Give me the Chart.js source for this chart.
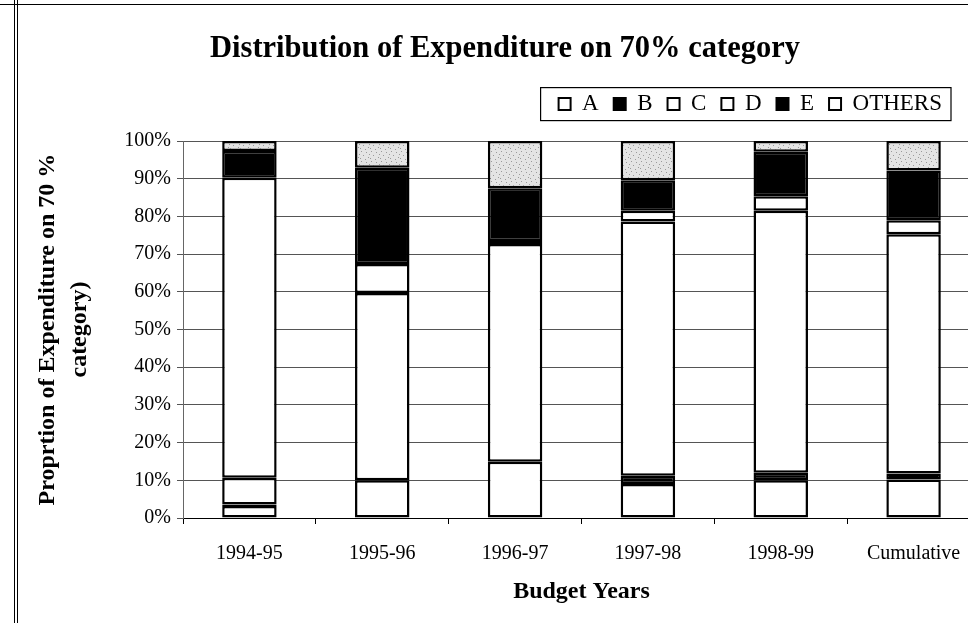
<!DOCTYPE html>
<html>
<head>
<meta charset="utf-8">
<script src="https://cdn.jsdelivr.net/npm/chart.js@4/dist/chart.umd.min.js"></script>
<style>
  html, body { margin: 0; padding: 0; background: #fff; overflow: hidden; width: 968px; height: 623px; }
  #wrap { position: absolute; left: 0; top: 0; width: 1000px; height: 623px; }
  #frameL { position: absolute; left: 14px; top: 0; width: 2px; height: 623px; border-left: 1px solid #000; border-right: 1px solid #000; }
  #frameT { position: absolute; left: 0; top: 4px; width: 968px; height: 0; border-top: 1px solid #000; }
</style>
</head>
<body>
<div id="wrap"><canvas id="c" width="1000" height="623"></canvas></div>
<div id="frameL"></div>
<div id="frameT"></div>
<script>
const categories = ['1994-95', '1995-96', '1996-97', '1997-98', '1998-99', 'Cumulative'];
const seriesA = [3.2, 10.0, 14.9, 9.0, 10.0, 10.2];
const seriesB = [0.4, 0, 0, 2.2, 2.0, 1.6];
const seriesC = [7.1, 49.7, 57.8, 67.5, 69.5, 63.5];
const seriesD = [79.6, 7.7, 0.8, 2.8, 3.9, 3.7];
const seriesE = [7.1, 25.5, 14.0, 8.1, 11.8, 13.2];
const seriesOthers = [2.6, 7.1, 12.5, 10.4, 2.8, 7.8];
const yTicks = [0, 10, 20, 30, 40, 50, 60, 70, 80, 90, 100];

const serif = "'Liberation Serif', 'Times New Roman', serif";

function speckle() {
  const p = document.createElement('canvas');
  p.width = 10; p.height = 10;
  const g = p.getContext('2d');
  g.fillStyle = '#e4e4e4';
  g.fillRect(0, 0, 10, 10);
  g.fillStyle = '#9a9a9a';
  const dots = [[1,1],[6,2],[3,5],[8,7],[0,8],[5,9],[9,4]];
  dots.forEach(d => g.fillRect(d[0], d[1], 1, 1));
  return g.createPattern(p, 'repeat');
}

const names = ['A', 'B', 'C', 'D', 'E', 'OTHERS'];
const values = [seriesA, seriesB, seriesC, seriesD, seriesE, seriesOthers];
const fills = ['#ffffff', '#000000', '#ffffff', '#ffffff', '#000000', speckle()];
const legendFills = ['#ffffff', '#000000', '#ffffff', '#ffffff', '#000000', '#ffffff'];

const datasets = names.map((n, i) => ({
  label: n,
  data: values[i],
  backgroundColor: fills[i],
  borderColor: '#000',
  borderWidth: 2.5,
  borderSkipped: false,
  barPercentage: 0.41,
  categoryPercentage: 1.0
}));

const legendFrame = {
  id: 'legendFrame',
  beforeInit(chart) {
    const lg = chart.legend;
    if (lg) {
      const orig = lg.fit;
      lg.fit = function () { orig.call(this); this.height += 15.5; };
    }
  },
  afterLayout(chart) {
    chart.legend.right = 957;
  },
  afterDraw(chart) {
    const hb = chart.legend.legendHitBoxes;
    if (!hb || !hb.length) return;
    let l = Infinity, r = -Infinity, t = Infinity, b = -Infinity;
    hb.forEach(h => { l = Math.min(l, h.left); r = Math.max(r, h.left + h.width); t = Math.min(t, h.top); b = Math.max(b, h.top + h.height); });
    const ctx = chart.ctx;
    ctx.save();
    ctx.strokeStyle = '#000';
    ctx.lineWidth = 1.2;
    const cy = (t + b) / 2;
    ctx.strokeRect(l - 18, cy - 16.5, (r - l) + 27, 33);
    ctx.restore();
  }
};

new Chart(document.getElementById('c'), {
  type: 'bar',
  data: { labels: categories, datasets },
  plugins: [legendFrame],
  options: {
    responsive: false,
    animation: false,
    layout: { padding: { top: 21, right: 20, bottom: 17, left: 30 } },
    plugins: {
      title: {
        display: true,
        text: 'Distribution of Expenditure on 70% category',
        color: '#000',
        font: { family: serif, size: 30.5, weight: 'bold', lineHeight: 1.2 },
        padding: { top: 10, bottom: 10 }
      },
      legend: {
        position: 'top',
        align: 'end',
        labels: {
          color: '#000',
          font: { family: serif, size: 23 },
          boxWidth: 12,
          boxHeight: 12,
          padding: 15,
          generateLabels(chart) {
            return chart.data.datasets.map((d, i) => ({
              text: d.label,
              fillStyle: legendFills[i],
              strokeStyle: '#000',
              lineWidth: 2,
              hidden: false,
              datasetIndex: i
            }));
          }
        }
      },
      tooltip: { enabled: false }
    },
    scales: {
      x: {
        stacked: true,
        afterFit(scale) { scale.height = 88; },
        grid: { display: true, drawOnChartArea: false, color: '#000', tickLength: 6 },
        border: { display: true, color: '#000', width: 1 },
        ticks: { color: '#000', font: { family: serif, size: 20, lineHeight: 1.2 }, padding: 18 },
        title: {
          display: true,
          text: 'Budget Years',
          color: '#000',
          font: { family: serif, size: 24, weight: 'bold', lineHeight: 1.2 },
          padding: { top: 8, bottom: 0 }
        }
      },
      y: {
        stacked: true,
        min: 0,
        max: 100,
        afterBuildTicks(scale) { scale.ticks = yTicks.map(v => ({ value: v })); },
        afterFit(scale) { scale.width = 153; },
        grid: { color: '#555', lineWidth: 1, tickLength: 6 },
        border: { display: true, color: '#666', width: 1 },
        ticks: {
          color: '#000',
          font: { family: serif, size: 20 },
          padding: 6,
          callback: v => v + '%'
        },
        title: {
          display: true,
          text: ['Proprtion of Expenditure on 70 %', 'category)'],
          color: '#000',
          font: { family: serif, size: 24, weight: 'bold', lineHeight: 1.33 },
          padding: { top: 2, bottom: 6 }
        }
      }
    }
  }
});
</script>
</body>
</html>
